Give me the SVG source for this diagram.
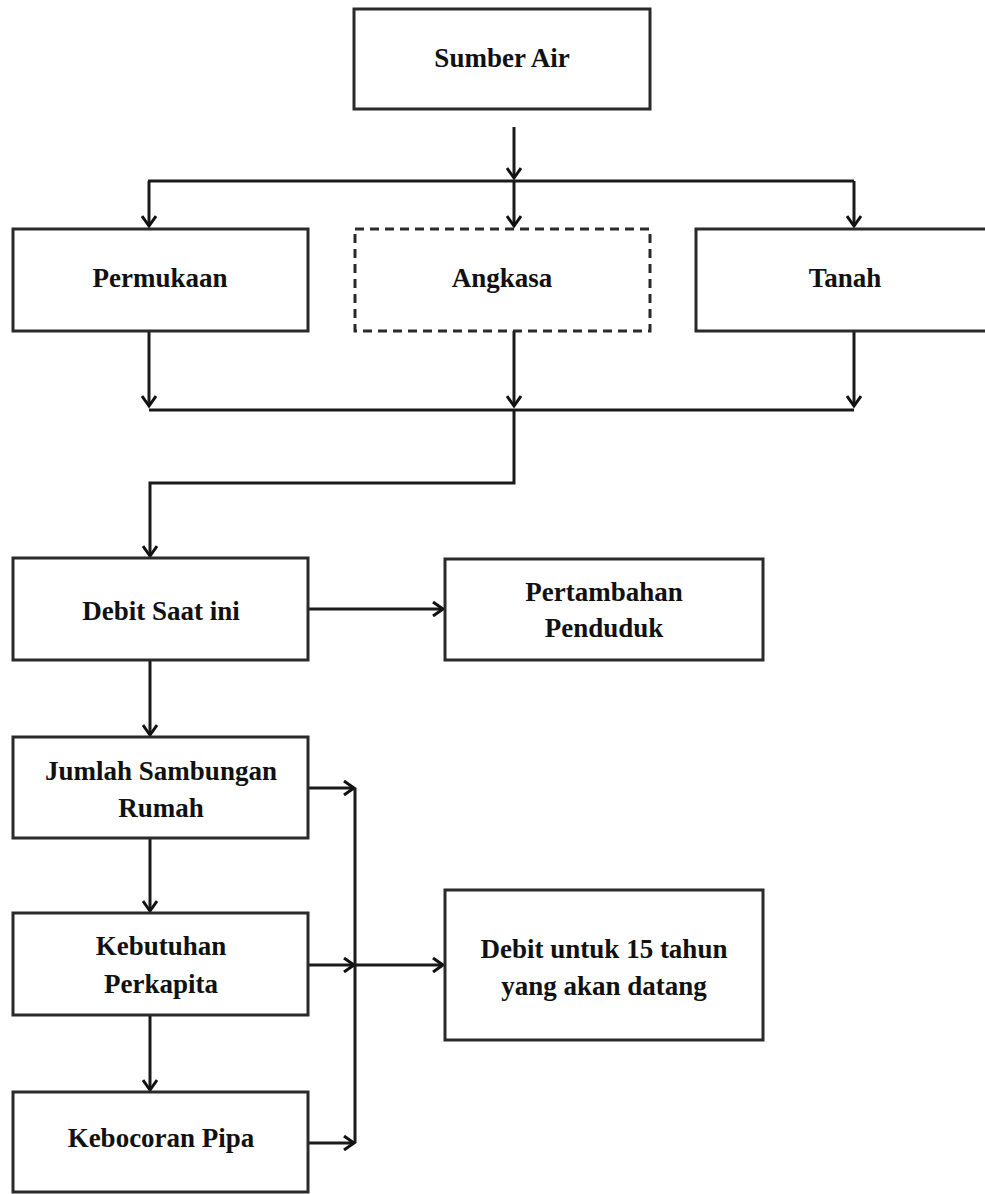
<svg xmlns="http://www.w3.org/2000/svg" width="985" height="1194" viewBox="0 0 985 1194">
<style>
.box{fill:#fff;stroke:#2a2a2a;stroke-width:3}
.dash{stroke-dasharray:9,6}
.t{font-family:"Liberation Serif","Times New Roman",serif;font-weight:bold;font-size:27px;fill:#111;text-anchor:middle}
.c{fill:none;stroke:#1a1a1a;stroke-width:3}
.a{marker-end:url(#ah)}
</style>
<defs>
<marker id="ah" markerWidth="16" markerHeight="16" viewBox="0 0 16 16" refX="13" refY="8" orient="auto" markerUnits="userSpaceOnUse">
<path d="M3,1 L13,8 L3,15" fill="none" stroke="#111" stroke-width="3"/>
</marker>
</defs>
<g id="connectors">
<path class="c a" d="M514,127 V178"/>
<path class="c" d="M148,181 H854"/>
<path class="c a" d="M149,181 V226"/>
<path class="c a" d="M514,181 V226"/>
<path class="c a" d="M854,181 V226"/>
<path class="c a" d="M149,331 V406"/>
<path class="c a" d="M514,331 V406"/>
<path class="c a" d="M854,331 V406"/>
<path class="c" d="M149,410 H854"/>
<path class="c a" d="M514,410 V483 H150 V556"/>
<path class="c a" d="M308,609 H443"/>
<path class="c a" d="M150,660 V735"/>
<path class="c a" d="M150,838 V911"/>
<path class="c a" d="M150,1015 V1090"/>
<path class="c a" d="M308,788 H354"/>
<path class="c a" d="M308,965 H354"/>
<path class="c a" d="M308,1143 H354"/>
<path class="c" d="M355,788 V1143"/>
<path class="c a" d="M355,965 H443"/>
</g>
<g id="sumber-air"><rect class="box" x="354" y="9" width="296" height="100"/><text class="t" x="502" y="67">Sumber Air</text></g>
<g id="permukaan"><rect class="box" x="13" y="229" width="295" height="102"/><text class="t" x="160" y="287">Permukaan</text></g>
<g id="angkasa"><rect class="box dash" x="355" y="229" width="295" height="102"/><text class="t" x="502" y="287">Angkasa</text></g>
<g id="tanah"><rect class="box" x="696" y="229" width="300" height="102"/><text class="t" x="845" y="287">Tanah</text></g>
<g id="debit-saat-ini"><rect class="box" x="13" y="558" width="295" height="102"/><text class="t" x="161" y="620">Debit Saat ini</text></g>
<g id="pertambahan-penduduk"><rect class="box" x="445" y="559" width="318" height="101"/><text class="t" x="604" y="601">Pertambahan</text><text class="t" x="604" y="637">Penduduk</text></g>
<g id="jumlah-sambungan-rumah"><rect class="box" x="13" y="737" width="295" height="101"/><text class="t" x="161" y="780">Jumlah Sambungan</text><text class="t" x="161" y="817">Rumah</text></g>
<g id="kebutuhan-perkapita"><rect class="box" x="13" y="913" width="295" height="102"/><text class="t" x="161" y="955">Kebutuhan</text><text class="t" x="161" y="993">Perkapita</text></g>
<g id="kebocoran-pipa"><rect class="box" x="13" y="1092" width="295" height="100"/><text class="t" x="161" y="1147">Kebocoran Pipa</text></g>
<g id="debit-15-tahun"><rect class="box" x="445" y="890" width="318" height="150"/><text class="t" x="604" y="958">Debit untuk 15 tahun</text><text class="t" x="604" y="995">yang akan datang</text></g>
</svg>
